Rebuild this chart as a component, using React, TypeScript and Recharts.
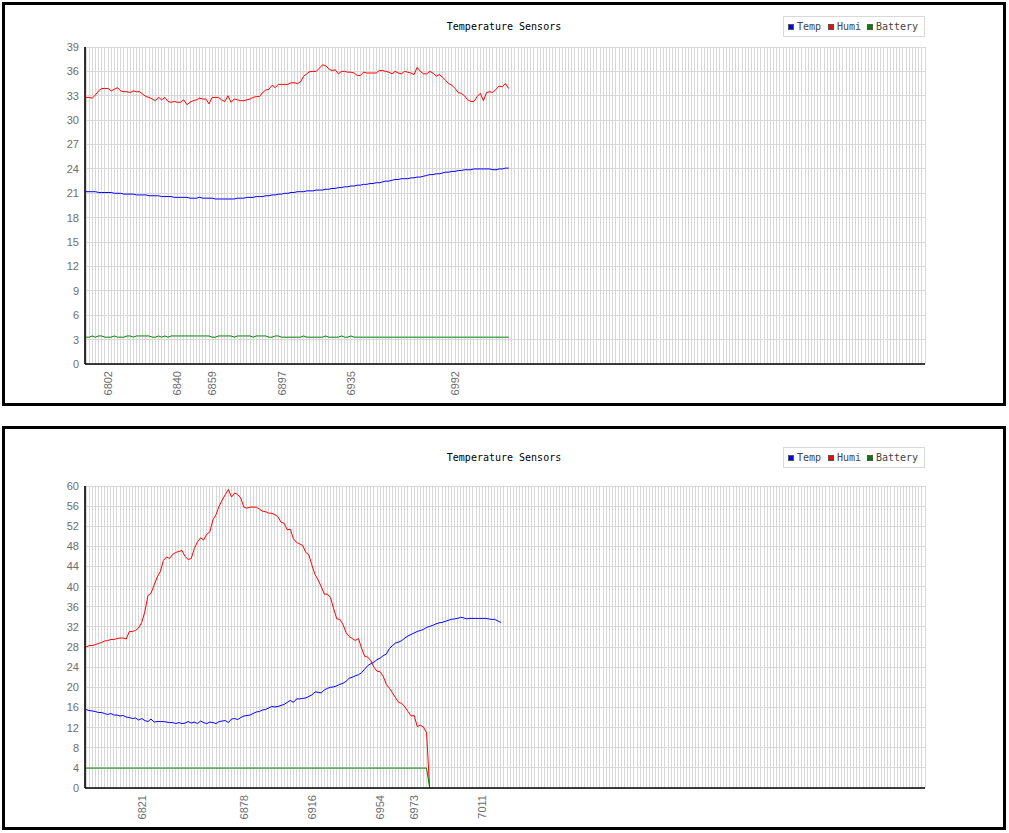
import { CartesianGrid, Line, LineChart, XAxis, YAxis } from "recharts";

// ---- top panel ----
const topPointCount = 267;
const topTickIdx = [7, 29, 40, 62, 84, 117];
const topTickText = ["6802", "6840", "6859", "6897", "6935", "6992"];
const topYTicks = [0, 3, 6, 9, 12, 15, 18, 21, 24, 27, 30, 33, 36, 39];

const topTemp = [
  21.2, 21.2, 21.2, 21.2, 21.1, 21.1, 21.1, 21.1, 21.1, 21.0, 21.0,
  21.0, 20.9, 20.9, 20.9, 20.9, 20.8, 20.8, 20.8, 20.8, 20.7,
  20.7, 20.7, 20.7, 20.6, 20.6, 20.6, 20.6, 20.5, 20.5, 20.5,
  20.5, 20.5, 20.4, 20.4, 20.4, 20.5, 20.4, 20.4, 20.4, 20.4,
  20.3, 20.3, 20.3, 20.3, 20.3, 20.3, 20.3, 20.4, 20.4, 20.4,
  20.5, 20.5, 20.5, 20.6, 20.6, 20.6, 20.7, 20.7, 20.8, 20.8,
  20.9, 20.9, 21.0, 21.0, 21.1, 21.1, 21.2, 21.2, 21.2, 21.3,
  21.3, 21.3, 21.4, 21.4, 21.4, 21.5, 21.5, 21.6, 21.6, 21.7,
  21.7, 21.8, 21.8, 21.9, 21.9, 22.0, 22.0, 22.1, 22.1, 22.2,
  22.2, 22.3, 22.3, 22.4, 22.5, 22.5, 22.6, 22.7, 22.7, 22.8,
  22.8, 22.8, 22.9, 22.9, 23.0, 23.0, 23.1, 23.2, 23.3, 23.3,
  23.4, 23.4, 23.5, 23.6, 23.6, 23.7, 23.7, 23.8, 23.8, 23.9,
  23.9, 23.9, 24.0, 24.0, 24.0, 24.0, 24.0, 24.0, 23.9, 23.9,
  24.0, 24.0, 24.1, 24.1,
];

const topHumi = [
  32.8, 32.8, 32.7, 33.1, 33.6, 33.9, 33.9, 33.9, 33.6, 33.8,
  34.0, 33.6, 33.5, 33.5, 33.4, 33.6, 33.5, 33.5, 33.2, 32.9,
  32.8, 32.6, 32.4, 32.8, 32.5, 32.8, 32.3, 32.2, 32.3, 32.2,
  32.2, 32.5, 31.9, 32.2, 32.4, 32.5, 32.7, 32.6, 32.6, 32.0,
  32.8, 32.8, 32.8, 32.5, 32.3, 33.0, 32.2, 32.6, 32.5, 32.4,
  32.4, 32.5, 32.6, 32.8, 32.9, 32.9, 33.4, 33.7, 33.8, 34.3,
  34.0, 34.4, 34.4, 34.4, 34.4, 34.6, 34.6, 34.5, 34.7, 35.4,
  35.7, 36.0, 36.0, 36.0, 36.4, 36.8, 36.7, 36.3, 36.1, 36.2,
  35.7, 36.0, 36.0, 35.9, 35.9, 35.8, 35.5, 35.5, 35.9, 35.8,
  35.8, 35.8, 35.8, 36.1, 36.1, 36.0, 35.9, 35.7, 36.0, 35.8,
  35.7, 36.0, 35.9, 35.8, 35.6, 36.5, 36.0, 35.7, 35.7, 36.0,
  35.8, 35.4, 35.6, 35.3, 34.9, 34.5, 34.3, 33.9, 33.4, 33.3,
  33.0, 32.5, 32.3, 32.3, 32.9, 33.3, 32.4, 33.4, 33.5, 33.4,
  33.8, 34.2, 34.1, 34.5, 33.9,
];

const topBattery = [
  3.3, 3.3, 3.45, 3.3, 3.45, 3.45, 3.3, 3.3, 3.3, 3.45,
  3.3, 3.3, 3.3, 3.45, 3.45, 3.3, 3.45, 3.45, 3.45, 3.45,
  3.45, 3.3, 3.3, 3.45, 3.3, 3.45, 3.3, 3.45, 3.45, 3.45,
  3.45, 3.45, 3.45, 3.45, 3.45, 3.45, 3.45, 3.45, 3.45, 3.45,
  3.3, 3.3, 3.45, 3.45, 3.45, 3.45, 3.45, 3.3, 3.45, 3.45,
  3.45, 3.45, 3.45, 3.3, 3.45, 3.45, 3.45, 3.45, 3.3, 3.3,
  3.45, 3.45, 3.3, 3.3, 3.3, 3.3, 3.3, 3.3, 3.3, 3.45,
  3.3, 3.3, 3.3, 3.3, 3.3, 3.3, 3.45, 3.3, 3.3, 3.3,
  3.3, 3.45, 3.3, 3.3, 3.45, 3.3, 3.3, 3.3, 3.3, 3.3,
  3.3, 3.3, 3.3, 3.3, 3.3, 3.3, 3.3, 3.3, 3.3, 3.3,
  3.3, 3.3, 3.3, 3.3, 3.3, 3.3, 3.3, 3.3, 3.3, 3.3,
  3.3, 3.3, 3.3, 3.3, 3.3, 3.3, 3.3, 3.3, 3.3, 3.3,
  3.3, 3.3, 3.3, 3.3, 3.3, 3.3, 3.3, 3.3, 3.3, 3.3,
  3.3, 3.3, 3.3, 3.3, 3.3,
];

// ---- bottom panel ----
const bottomPointCount = 272;
const bottomTickIdx = [18, 51, 73, 95, 106, 128];
const bottomTickText = ["6821", "6878", "6916", "6954", "6973", "7011"];
const bottomYTicks = [0, 4, 8, 12, 16, 20, 24, 28, 32, 36, 40, 44, 48, 52, 56, 60];

const bottomTemp = [
  15.6, 15.4, 15.3, 15.2, 15.0, 15.0, 14.8, 14.6, 14.8, 14.5,
  14.5, 14.3, 14.4, 14.1, 14.0, 13.8, 13.9, 13.5, 13.8, 13.4,
  13.2, 13.7, 13.1, 13.2, 13.2, 13.2, 13.1, 13.0, 13.0, 12.8,
  13.0, 12.8, 12.9, 13.2, 12.9, 13.1, 12.8, 13.3, 13.0, 12.8,
  13.1, 13.0, 12.8, 13.2, 13.3, 13.4, 13.0, 13.7, 13.8, 13.6,
  14.0, 14.3, 14.4, 14.5, 14.8, 15.1, 15.2, 15.5, 15.6, 15.9,
  16.2, 16.1, 16.2,
  16.4, 16.6, 17.0, 17.4, 17.0, 17.7, 17.7, 17.8, 17.9, 18.2,
  18.5, 19.1, 19.0, 18.9, 19.5, 19.8, 20.0, 20.1, 20.3, 20.6,
  20.8, 21.2, 21.8, 22.0, 22.3, 22.5, 22.9, 23.6, 24.3, 24.7,
  25.0, 25.5, 25.8, 26.3, 26.6, 27.7, 28.3, 28.8, 29.0, 29.3,
  29.8, 30.2, 30.5, 30.8, 31.1, 31.3, 31.5, 31.9, 32.1, 32.3,
  32.6, 32.8, 32.9, 33.1, 33.3, 33.5, 33.6, 33.7, 33.9, 33.8,
  33.6, 33.7, 33.7, 33.7, 33.7, 33.7, 33.7, 33.6, 33.5, 33.5, 33.2, 32.9,
];

const bottomHumi = [
  28.0, 28.3, 28.3, 28.5, 28.7, 28.9, 29.2, 29.3, 29.5, 29.5,
  29.7, 29.8, 29.8, 29.6, 31.1, 31.1, 31.3, 31.8, 32.9, 35.0,
  38.2, 38.7, 40.3, 41.9, 43.0, 45.2, 45.9, 45.6, 46.4, 46.8,
  47.0, 47.2, 46.0, 45.4, 45.6, 47.6, 48.9, 49.7, 49.3, 50.4,
  50.9, 53.3, 54.3, 56.0, 57.2, 58.3, 59.3, 57.8, 58.6, 58.3,
  57.6, 55.8, 55.6, 55.8, 55.8, 55.8, 55.4, 55.0, 54.9, 54.6,
  54.6, 54.3, 53.9, 52.8, 52.6, 51.3, 51.4, 49.5, 48.8, 48.5,
  48.2, 46.8, 46.3, 44.2, 42.4, 41.3, 40.0, 38.5, 38.5, 37.8,
  35.6, 33.6, 33.5, 32.5, 30.9, 30.1, 29.7, 29.3, 29.7, 27.8,
  26.2, 26.0, 25.3, 24.0, 23.2, 23.1, 22.2, 20.6, 19.8, 18.9,
  17.9, 17.0, 16.8, 16.1, 15.2, 14.3, 14.4, 12.2, 12.5, 12.1,
  11.0, 0,
];

const bottomBattery = [
  ...Array(111).fill(3.95),
  0,
];

// ---- shared ----
const seriesColors = { temp: "#0000ff", humi: "#ff0000", battery: "#008000" };
const legendItems = [
  { key: "temp", label: "Temp" },
  { key: "humi", label: "Humi" },
  { key: "battery", label: "Battery" },
];

function buildRows(count: number, temp: number[], humi: number[], battery: number[]) {
  return Array.from({ length: count }, (_, i) => ({
    idx: i,
    temp: i < temp.length ? temp[i] : null,
    humi: i < humi.length ? humi[i] : null,
    battery: i < battery.length ? battery[i] : null,
  }));
}

interface PanelProps {
  top: number;
  rows: ReturnType<typeof buildRows>;
  tickIdx: number[];
  tickText: string[];
  yTicks: number[];
  plotTop: number;
  titleTop: number;
  legendTop: number;
}

const monoFont = '"DejaVu Sans Mono", monospace';
const tickFont = '"Liberation Sans", Arial, sans-serif';

function Panel({ top, rows, tickIdx, tickText, yTicks, plotTop, titleTop, legendTop }: PanelProps) {
  const labelMap = new Map<number, string>();
  tickIdx.forEach((i, k) => labelMap.set(i, tickText[k]));

  const XTick = (props: any) => {
    const { x, y, payload } = props;
    const text = labelMap.get(payload.value);
    if (!text) return <g />;
    return (
      <text
        x={x}
        y={y}
        transform={`rotate(-90 ${x} ${y})`}
        textAnchor="end"
        dy="0.36em"
        fill="#6e6e6e"
        fontSize={11}
        fontFamily={tickFont}
      >
        {text}
      </text>
    );
  };

  const yMax = yTicks[yTicks.length - 1];

  return (
    <div
      style={{
        position: "absolute",
        left: 2,
        top,
        width: 1004,
        height: 404,
        border: "3px solid #000",
        boxSizing: "border-box",
        background: "#fff",
      }}
    >
      <LineChart
        width={998}
        height={398}
        data={rows}
        margin={{ top: plotTop, right: 78, left: 50, bottom: 9 }}
      >
        <CartesianGrid stroke="#d8d8d8" strokeWidth={1} shapeRendering="crispEdges" />
        <XAxis
          dataKey="idx"
          type="category"
          interval={0}
          height={30}
          padding={{ left: 1, right: 0 }}
          tickLine={false}
          tickSize={0}
          tickMargin={7}
          axisLine={{ stroke: "#000", strokeWidth: 1.6 }}
          tick={XTick}
        />
        <YAxis
          width={30}
          domain={[0, yMax]}
          ticks={yTicks}
          interval={0}
          tickLine={false}
          tickSize={0}
          tickMargin={6}
          axisLine={{ stroke: "#000", strokeWidth: 1.6 }}
          tick={{ fill: "#6e6e6e", fontSize: 11, fontFamily: tickFont }}
        />
        <Line type="linear" dataKey="temp" stroke={seriesColors.temp} strokeWidth={1} dot={false} isAnimationActive={false} />
        <Line type="linear" dataKey="humi" stroke={seriesColors.humi} strokeWidth={1} dot={false} isAnimationActive={false} />
        <Line type="linear" dataKey="battery" stroke={seriesColors.battery} strokeWidth={1} dot={false} isAnimationActive={false} />
      </LineChart>

      <div
        style={{
          position: "absolute",
          left: 0,
          width: 998,
          top: titleTop,
          textAlign: "center",
          fontFamily: monoFont,
          fontSize: 10,
          lineHeight: "12px",
          color: "#000",
        }}
      >
        Temperature Sensors
      </div>

      <div
        style={{
          position: "absolute",
          left: 778,
          top: legendTop,
          width: 142,
          height: 21,
          border: "1px solid #d9d9d9",
          boxSizing: "border-box",
          background: "#fff",
        }}
      >
        {legendItems.map((item, k) => {
          const sqX = [4, 44, 83][k];
          return (
            <div key={item.key}>
              <div
                style={{
                  position: "absolute",
                  left: sqX,
                  top: 7,
                  width: 6,
                  height: 6,
                  boxSizing: "border-box",
                  border: "1px solid #555",
                  background: seriesColors[item.key as keyof typeof seriesColors],
                }}
              />
              <div
                style={{
                  position: "absolute",
                  left: sqX + 9,
                  top: 4,
                  fontFamily: monoFont,
                  fontSize: 10,
                  lineHeight: "12px",
                  color: "#444",
                  whiteSpace: "nowrap",
                }}
              >
                {item.label}
              </div>
            </div>
          );
        })}
      </div>
    </div>
  );
}

export default function App() {
  const topRows = buildRows(topPointCount, topTemp, topHumi, topBattery);
  const bottomRows = buildRows(bottomPointCount, bottomTemp, bottomHumi, bottomBattery);

  return (
    <div style={{ position: "absolute", left: 0, top: 0, width: 1009, height: 833, background: "#fff" }}>
      <Panel
        top={2}
        rows={topRows}
        tickIdx={topTickIdx}
        tickText={topTickText}
        yTicks={topYTicks}
        plotTop={42}
        titleTop={16}
        legendTop={11}
      />
      <Panel
        top={426}
        rows={bottomRows}
        tickIdx={bottomTickIdx}
        tickText={bottomTickText}
        yTicks={bottomYTicks}
        plotTop={57}
        titleTop={23}
        legendTop={18}
      />
    </div>
  );
}
